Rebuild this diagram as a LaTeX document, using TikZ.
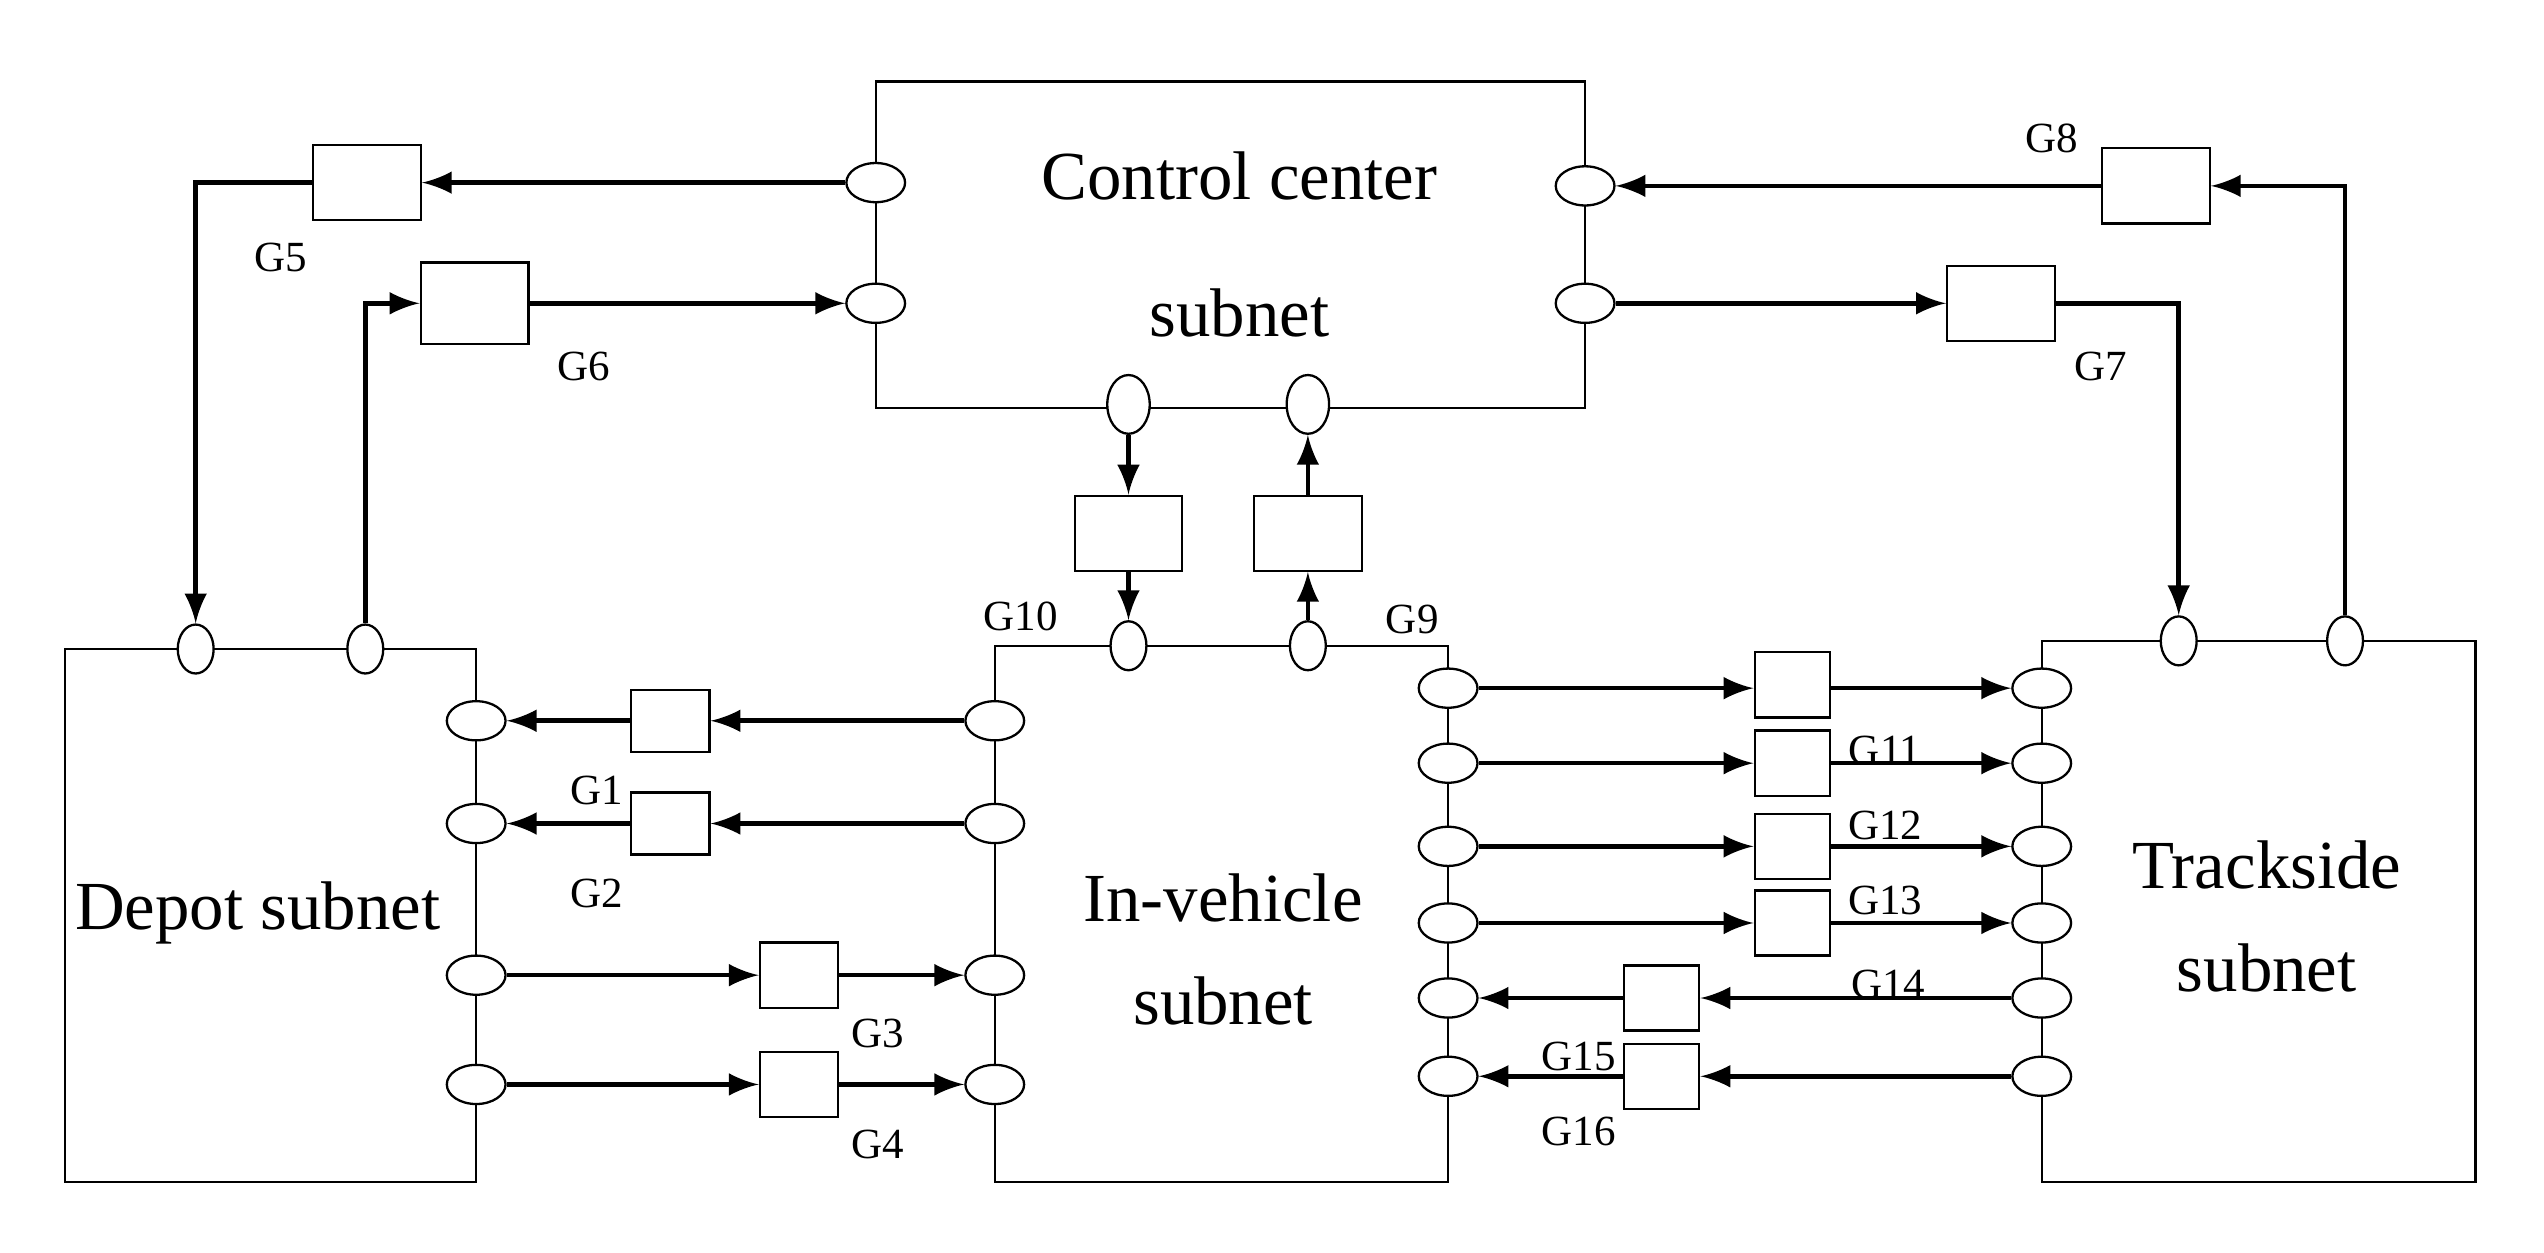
\documentclass[tikz,border=0pt]{standalone}
\usepackage{fontspec}
\setmainfont{Liberation Serif}
\usetikzlibrary{shapes,shapes.geometric,arrows}

\tikzset{
  sub/.style={draw, rectangle, inner sep=0pt},
  port/.style={draw, ellipse, fill=white, inner sep=0pt, minimum width=0.36cm, minimum height=0.24cm},
  vport/.style={draw, ellipse, fill=white, inner sep=0pt, minimum width=0.22cm, minimum height=0.3cm},
  gw/.style={draw, rectangle, fill=white, inner sep=0pt, minimum width=0.46cm, minimum height=0.4cm},
  bgw/.style={draw, rectangle, fill=white, inner sep=0pt, minimum width=0.66cm, minimum height=0.46cm},
  arr/.style={->, >=latex, thick},
  glab/.style={font=\fontsize{7.5}{8}\selectfont},
  big/.style={font=\fontsize{12}{14}\selectfont, align=center}
}

\begin{document}
\begin{tikzpicture}[x=0.01cm, y=-0.01cm]
  \useasboundingbox (0,0) rectangle (1560,768);
  % subnets
  \draw[sub] (537,50) rectangle (972,250);
  \draw[sub] (40,398) rectangle (292,725);
  \draw[sub] (610,396) rectangle (888,725);
  \draw[sub] (1252,393) rectangle (1518,725);
  \node[big] (cc) at (760,150) {Control center\\[10pt] subnet};
  \node[big] (dep) at (158,560) {Depot subnet};
  \node[big] (iv) at (750,582) {In-vehicle\\[4pt] subnet};
  \node[big] (ts) at (1390,562) {Trackside\\[4pt] subnet};
  % ports on control center
  \node[port] (cl1) at (537,112) {};
  \node[port] (cl2) at (537,186) {};
  \node[port] (cr1) at (972,114) {};
  \node[port] (cr2) at (972,186) {};
  \node[vport, minimum width=0.26cm, minimum height=0.36cm] (cb1) at (692,248) {};
  \node[vport, minimum width=0.26cm, minimum height=0.36cm] (cb2) at (802,248) {};
  % ports on depot, in-vehicle, trackside
  \node[vport] (dt1) at (120,398) {};
  \node[vport] (dt2) at (224,398) {};
  \node[vport] (it1) at (692,396) {};
  \node[vport] (it2) at (802,396) {};
  \node[vport] (tt1) at (1336,393) {};
  \node[vport] (tt2) at (1438,393) {};
  \foreach \i/\y in {1/442,2/505,3/598,4/665}{
    \node[port] (dr\i) at (292,\y) {};
    \node[port] (il\i) at (610,\y) {};
  }
  \foreach \i/\y in {1/422,2/468,3/519,4/566,5/612,6/660}{
    \node[port] (ir\i) at (888,\y) {};
    \node[port] (tl\i) at (1252,\y) {};
  }
  % gateways
  \node[bgw] (g5) at (225,112) {};
  \node[bgw, minimum height=0.5cm] (g6) at (291,186) {};
  \node[bgw] (g7) at (1227,186) {};
  \node[bgw] (g8) at (1322,114) {};
  \node[bgw] (g10) at (692,327) {};
  \node[bgw] (g9) at (802,327) {};
  \node[gw, minimum width=0.48cm, minimum height=0.38cm] (g1) at (411,442) {};
  \node[gw, minimum width=0.48cm, minimum height=0.38cm] (g2) at (411,505) {};
  \node[gw, minimum width=0.48cm] (g3) at (490,598) {};
  \node[gw, minimum width=0.48cm] (g4) at (490,665) {};
  \foreach \i/\y in {1/420,2/468,3/519,4/566}
    \node[gw] (gr\i) at (1099,\y) {};
  \node[gw] (gl5) at (1019,612) {};
  \node[gw] (gl6) at (1019,660) {};
  % labels
  \node[glab] at (172,158) {G5};
  \node[glab] at (358,225) {G6};
  \node[glab] at (1258,85) {G8};
  \node[glab] at (1288,225) {G7};
  \node[glab] at (626,378) {G10};
  \node[glab] at (866,380) {G9};
  \node[glab] at (366,485) {G1};
  \node[glab] at (366,548) {G2};
  \node[glab] at (538,634) {G3};
  \node[glab] at (538,702) {G4};
  \node[glab] at (1156,460) {G11};
  \node[glab] at (1156,506) {G12};
  \node[glab] at (1156,552) {G13};
  \node[glab] at (1158,604) {G14};
  \node[glab] at (968,648) {G15};
  \node[glab] at (968,694) {G16};
  % control center links
  \draw[arr] (cl1.west) -- (g5.east);
  \draw[arr] (g5.west) -| (dt1.north);
  \draw[arr] (dt2.north) |- (g6.west);
  \draw[arr] (g6.east) -- (cl2.west);
  \draw[arr] (cr2.east) -- (g7.west);
  \draw[arr] (g7.east) -| (tt1.north);
  \draw[arr] (tt2.north) |- (g8.east);
  \draw[arr] (g8.west) -- (cr1.east);
  \draw[arr] (cb1.south) -- (g10.north);
  \draw[arr] (g10.south) -- (it1.north);
  \draw[arr] (it2.north) -- (g9.south);
  \draw[arr] (g9.north) -- (cb2.south);
  % depot links
  \draw[arr] (il1.west) -- (g1.east);
  \draw[arr] (g1.west) -- (dr1.east);
  \draw[arr] (il2.west) -- (g2.east);
  \draw[arr] (g2.west) -- (dr2.east);
  \draw[arr] (dr3.east) -- (g3.west);
  \draw[arr] (g3.east) -- (il3.west);
  \draw[arr] (dr4.east) -- (g4.west);
  \draw[arr] (g4.east) -- (il4.west);
  % trackside links
  \foreach \i in {1,...,4}{
    \draw[arr] (ir\i.east) -- (ir\i.east -| gr\i.west);
    \draw[arr] (gr\i.east |- tl\i.west) -- (tl\i.west);
  }
  \foreach \i in {5,6}{
    \draw[arr] (tl\i.west) -- (gl\i.east |- tl\i.west);
    \draw[arr] (gl\i.west |- ir\i.east) -- (ir\i.east);
  }
\end{tikzpicture}
\end{document}
